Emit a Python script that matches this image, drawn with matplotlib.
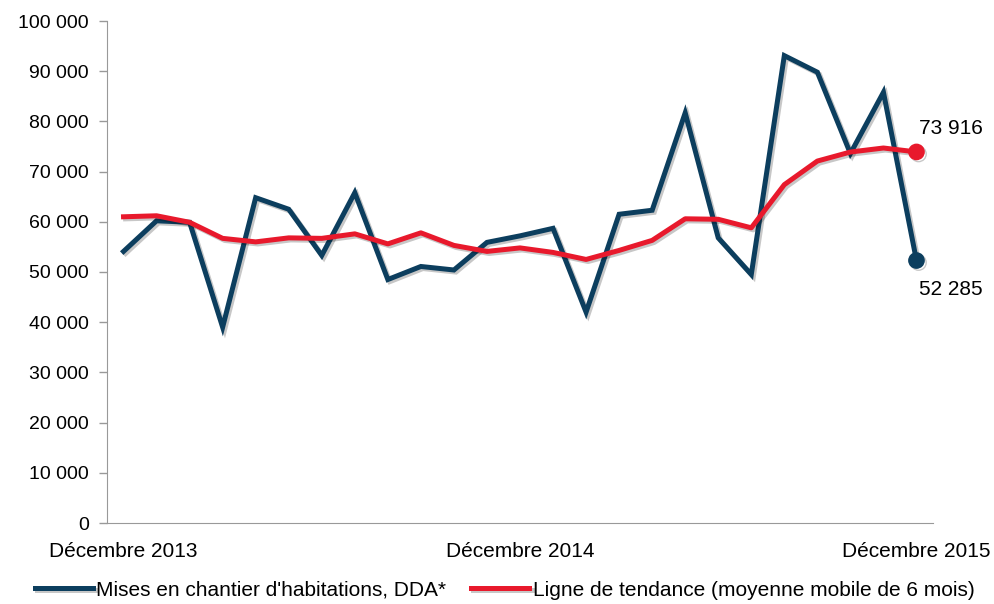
import matplotlib
matplotlib.use("Agg")
import matplotlib.pyplot as plt
import matplotlib.patheffects as pe
from matplotlib.ticker import FuncFormatter, MultipleLocator

plt.rcParams['font.family'] = ['Liberation Sans', 'DejaVu Sans']

months = list(range(25))
tick_positions = [0, 12, 24]
tick_labels = ["Décembre 2013", "Décembre 2014", "Décembre 2015"]

mises = [54100, 60200, 59900, 39000, 64800, 62500, 53300, 65800, 48500, 51100,
         50400, 55900, 57200, 58700, 42000, 61500, 62300, 81700, 56800, 49500,
         93100, 89800, 73600, 85800, 52285]
tendance = [61000, 61200, 59900, 56700, 56000, 56800, 56700, 57600, 55600, 57800,
            55300, 54100, 54800, 53900, 52500, 54300, 56300, 60600, 60500, 58800,
            67400, 72100, 73900, 74700, 73916]

label_mises = "Mises en chantier d'habitations, DDA*"
label_tend = "Ligne de tendance (moyenne mobile de 6 mois)"

blue = "#0C3E5E"
red = "#E8192C"
FS_Y = 14
FS = 15

fig = plt.figure(figsize=(9.95, 6.04), dpi=100)
ax = fig.add_axes([107/995, 1 - 523/604, (933 - 107)/995, (523 - 21)/604])

shadow = [pe.SimpleLineShadow(offset=(1.5, -1.5), alpha=0.22, shadow_color='black'), pe.Normal()]

ax.plot(months, mises, color=blue, lw=3.6, solid_joinstyle='miter', label=label_mises,
        path_effects=shadow, zorder=3)
ax.plot(months, tendance, color=red, lw=3.6, label=label_tend,
        path_effects=shadow, zorder=4)
ax.plot([months[-1]], [mises[-1]], 'o', color=blue, ms=11, zorder=5,
        path_effects=shadow)
ax.plot([months[-1]], [tendance[-1]], 'o', color=red, ms=11, zorder=5,
        path_effects=shadow)

fmt = lambda v: f"{int(round(v)):,}".replace(",", " ")
ax.annotate(fmt(tendance[-1]), (months[-1], tendance[-1]), xytext=(2, 17),
            textcoords='offset points', ha='left', va='center', fontsize=FS)
ax.annotate(fmt(mises[-1]), (months[-1], mises[-1]), xytext=(2, -21),
            textcoords='offset points', ha='left', va='center', fontsize=FS)

ax.set_xlim(-0.5, 24.5)
ax.set_ylim(0, 100000)
ax.yaxis.set_major_locator(MultipleLocator(10000))
ax.yaxis.set_major_formatter(FuncFormatter(lambda v, p: fmt(v)))
ax.set_xticks(tick_positions)
ax.set_xticklabels(tick_labels)
ax.tick_params(axis='x', length=0, pad=14, labelsize=FS)
ax.tick_params(axis='y', length=6, width=1, color='#999999', pad=7, labelsize=FS_Y)

for s in ['top', 'right']:
    ax.spines[s].set_visible(False)
ax.spines['left'].set_color('#999999')
ax.spines['bottom'].set_color('#999999')

leg = fig.legend(loc='center', bbox_to_anchor=(0.507, 1 - 590/604), ncol=2, frameon=False,
                 fontsize=FS, handlelength=2.8, handletextpad=0.15, columnspacing=1.2)

fig.savefig("out.png", dpi=100)
